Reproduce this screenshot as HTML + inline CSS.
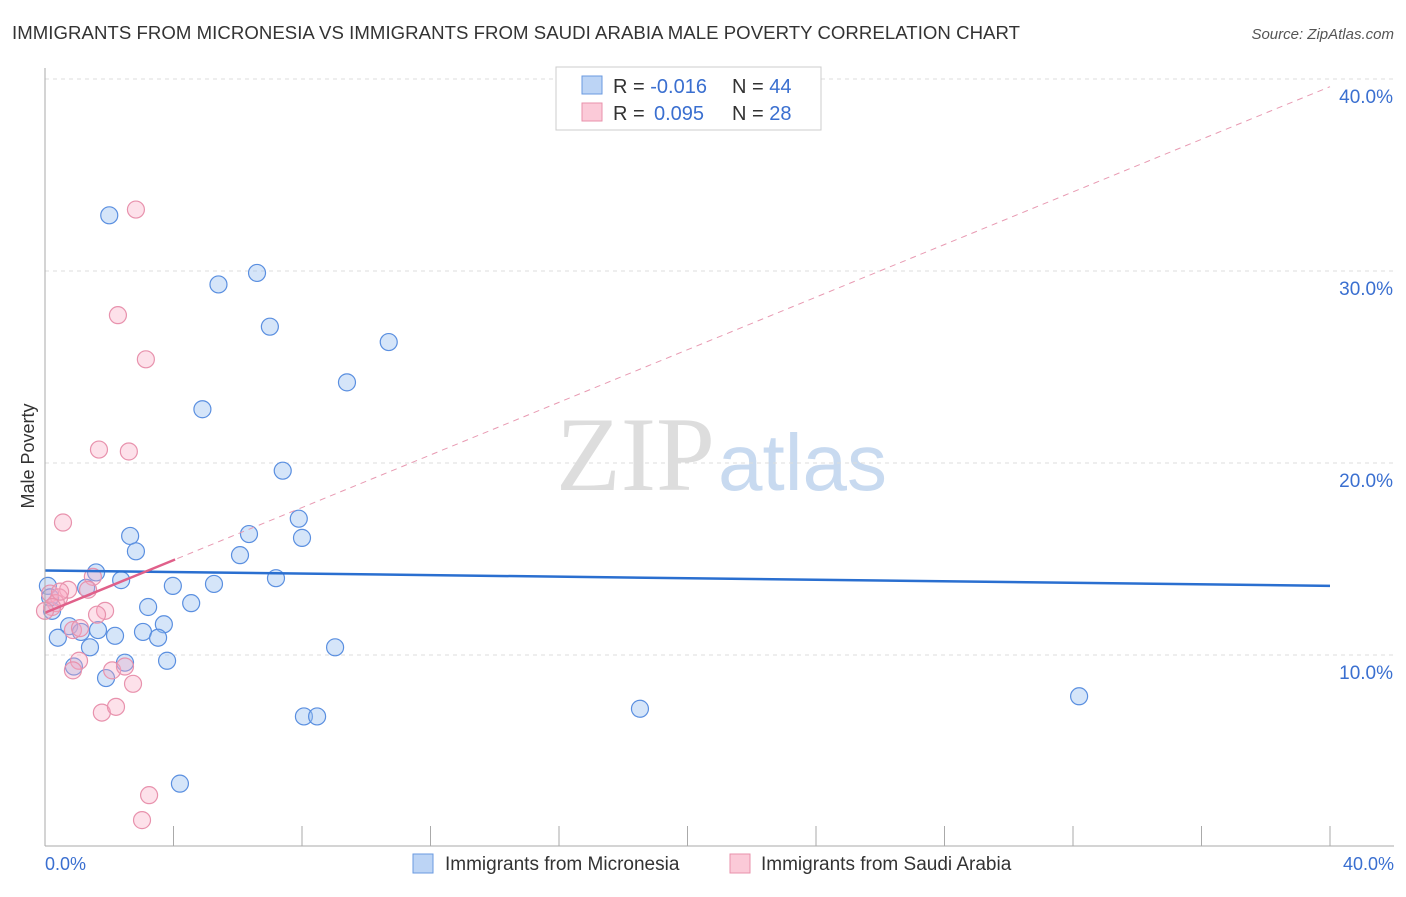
<!DOCTYPE html>
<html><head><meta charset="utf-8"><style>
body{margin:0;background:#fff;font-family:"Liberation Sans",sans-serif;}
</style></head><body>
<svg width="1406" height="892" xmlns="http://www.w3.org/2000/svg" id="svg">
<text x="12" y="39" font-size="18.6" fill="#333" textLength="1008">IMMIGRANTS FROM MICRONESIA VS IMMIGRANTS FROM SAUDI ARABIA MALE POVERTY CORRELATION CHART</text>
<text x="1394" y="39" font-size="15" fill="#555" font-style="italic" text-anchor="end">Source: ZipAtlas.com</text>
<text x="715" y="490" font-size="106" fill="#ddd" text-anchor="end" font-family="Liberation Serif">ZIP</text>
<text x="718" y="490" font-size="80" fill="#c8daf0">atlas</text>
<text x="34" y="456" font-size="18" fill="#333" transform="rotate(-90 34 456)" text-anchor="middle">Male Poverty</text>
<g id="grid"></g><g id="pts"></g><g id="lines"></g>
<line x1="45" y1="68" x2="45" y2="846" stroke="#aaa"/>
<line x1="45" y1="846" x2="1394" y2="846" stroke="#aaa"/>
<text x="45" y="870" font-size="18" fill="#3a6fd0">0.0%</text>
<text x="1394" y="870" font-size="18" fill="#3a6fd0" text-anchor="end">40.0%</text>
<rect x="556" y="67" width="265" height="63" fill="#fff" stroke="#ccc"/>
<rect x="582" y="76" width="20" height="18" fill="#bcd4f5" stroke="#6a9ae0"/>
<rect x="582" y="103" width="20" height="18" fill="#fbcad8" stroke="#e891ab"/>
<text x="613" y="93" font-size="20" fill="#333">R = <tspan fill="#3a6fd0">-0.016</tspan><tspan x="732">N = </tspan><tspan fill="#3a6fd0">44</tspan></text>
<text x="613" y="120" font-size="20" fill="#333">R = <tspan fill="#3a6fd0" x="654">0.095</tspan><tspan x="732">N = </tspan><tspan fill="#3a6fd0">28</tspan></text>
<rect x="413" y="854" width="20" height="19" fill="#bcd4f5" stroke="#6a9ae0"/>
<text x="445" y="870" font-size="19" fill="#333">Immigrants from Micronesia</text>
<rect x="730" y="854" width="20" height="19" fill="#fbcad8" stroke="#e891ab"/>
<text x="761" y="870" font-size="19" fill="#333">Immigrants from Saudi Arabia</text>
</svg>
<script>
const yTicks=[10,20,30,40];
const xTicks=[4,8,12,16,20,24,28,32,36,40];
const blueX=[2.0,6.6,5.4,7.0,10.7,9.4,4.9,7.4,7.9,6.35,2.65,8.0,2.83,6.07,1.59,7.19,2.37,0.09,3.98,5.26,1.28,4.55,3.21,0.75,3.7,1.65,1.12,0.4,2.18,3.05,3.52,1.4,9.03,2.49,3.8,0.9,1.9,8.06,8.47,18.52,32.19,4.2,0.22,0.16];
const blueY=[32.9,29.9,29.3,27.1,26.3,24.2,22.8,19.6,17.1,16.3,16.2,16.1,15.4,15.2,14.3,14.0,13.9,13.6,13.6,13.7,13.5,12.7,12.5,11.5,11.6,11.3,11.2,10.9,11.0,11.2,10.9,10.4,10.4,9.6,9.7,9.4,8.8,6.8,6.8,7.2,7.85,3.3,12.3,13.0];
const pinkX=[2.83,2.27,3.14,1.68,2.61,0.56,1.49,0.72,1.34,0.16,0.44,0.34,0.22,1.87,1.62,0.87,1.09,1.06,2.09,0.87,2.49,2.74,1.77,2.21,3.24,3.02,0.47,0.0];
const pinkY=[33.2,27.7,25.4,20.7,20.6,16.9,14.07,13.4,13.4,13.2,13.0,12.7,12.5,12.3,12.1,11.3,11.4,9.7,9.2,9.2,9.4,8.5,7.0,7.3,2.7,1.4,13.3,12.3];
const blueLine=[14.4,13.6];
const pinkLine=[12.2,39.6];
const pinkSolidEnd=4.05;
const sx=v=>45+v*32.125, sy=v=>847-v*19.2;
const NS='http://www.w3.org/2000/svg';
function mk(t,a,p){const e=document.createElementNS(NS,t);for(const k in a)e.setAttribute(k,a[k]);document.getElementById(p).appendChild(e);return e;}
yTicks.forEach(v=>{
 const l=mk('line',{x1:45,x2:1394,y1:sy(v),y2:sy(v),stroke:'#ddd','stroke-dasharray':'4,4'},'grid');
 
 
 const t=mk('text',{x:1393,y:sy(v)+24,'font-size':19,fill:'#3a6fd0','text-anchor':'end'},'grid');
 t.textContent=v.toFixed(1)+'%';
 
 
});
xTicks.forEach(v=>{
 const l=mk('line',{x1:sx(v),x2:sx(v),y1:826,y2:846,stroke:'#aaa'},'grid');
 
 
});
blueX.forEach((x,i)=>{
 const c=mk('circle',{cx:sx(x),cy:sy(blueY[i]),r:8.5,fill:'rgba(150,190,240,0.4)',stroke:'#5a8fe0','stroke-width':1.2},'pts');
 
 
});
pinkX.forEach((x,i)=>{
 const c=mk('circle',{cx:sx(x),cy:sy(pinkY[i]),r:8.5,fill:'rgba(248,170,195,0.35)',stroke:'#e892ad','stroke-width':1.2},'pts');
 
 
});
const pl=v=>pinkLine[0]+(pinkLine[1]-pinkLine[0])*v/40;
let d=mk('line',{x1:sx(0),y1:sy(pinkLine[0]),x2:sx(40),y2:sy(pinkLine[1]),stroke:'#e89ab2','stroke-dasharray':'6,5','stroke-width':1},'lines');


let b=mk('line',{x1:sx(0),y1:sy(blueLine[0]),x2:sx(40),y2:sy(blueLine[1]),stroke:'#2a6fd0','stroke-width':2.5},'lines');


let p=mk('line',{x1:sx(0),y1:sy(pl(0)),x2:sx(pinkSolidEnd),y2:sy(pl(pinkSolidEnd)),stroke:'#e0608a','stroke-width':2.5},'lines');


</script>
</body></html>
